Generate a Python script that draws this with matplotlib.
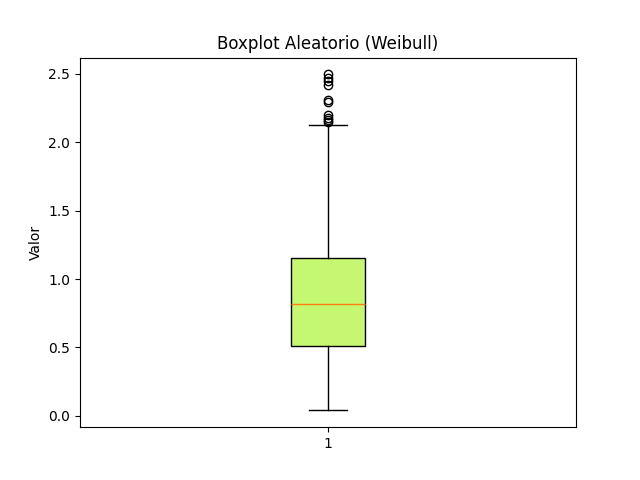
import matplotlib
matplotlib.use("Agg")
import matplotlib.pyplot as plt

# Summary statistics
labels = ["1"]
whislo = [0.04]
q1 = [0.508]
med = [0.815]
q3 = [1.157]
whishi = [2.125]
outliers = [[2.15, 2.165, 2.18, 2.20, 2.295, 2.305, 2.42, 2.45, 2.47, 2.495]]

stats = []
for i in range(len(labels)):
    stats.append(dict(label=labels[i], whislo=whislo[i], q1=q1[i], med=med[i],
                      q3=q3[i], whishi=whishi[i], fliers=outliers[i]))

fig, ax = plt.subplots(figsize=(6.4, 4.8), dpi=100)
bp = ax.bxp(stats, widths=0.15, patch_artist=True)
for b in bp["boxes"]:
    b.set_facecolor("#c5f870")
ax.set_title("Boxplot Aleatorio (Weibull)")
ax.set_ylabel("Valor")
fig.savefig("out.png")
